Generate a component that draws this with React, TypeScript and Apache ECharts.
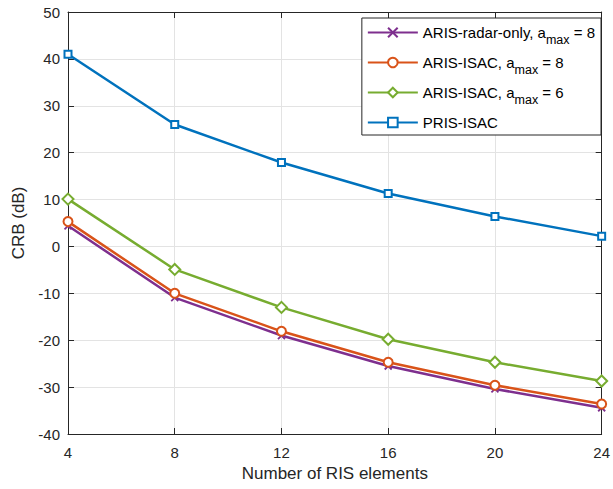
import React, { useEffect, useRef } from "react";
import * as echarts from "echarts";

const xValues = [4, 8, 12, 16, 20, 24];
const radarOnly8 = [4.4, -10.9, -19.0, -25.5, -30.4, -34.4];
const arisIsac8 = [5.3, -10.0, -18.1, -24.7, -29.6, -33.6];
const arisIsac6 = [10.1, -4.9, -13.0, -19.8, -24.7, -28.7];
const prisIsac = [41.0, 26.0, 17.9, 11.3, 6.4, 2.2];
const seriesNames = ["radar8", "isac8", "isac6", "pris"];
const legendParts: Record<string, [string, string, string]> = {
  radar8: ["ARIS-radar-only, a", "max", " = 8"],
  isac8: ["ARIS-ISAC, a", "max", " = 8"],
  isac6: ["ARIS-ISAC, a", "max", " = 6"],
  pris: ["PRIS-ISAC", "", ""],
};

const FONT = "'Liberation Sans', Arial, Helvetica, sans-serif";

export default function App() {
  const ref = useRef<HTMLDivElement>(null);
  useEffect(() => {
    if (!ref.current) return;
    const chart = echarts.init(ref.current, null, { renderer: "svg" });
    const pair = (ys: number[]) => xValues.map((x, i) => [x, ys[i]]);
    const mk = (name: string, color: string, ys: number[], symbol: string, size: number, z: number) => ({
      name,
      type: "line",
      data: pair(ys),
      symbol,
      symbolSize: size,
      z,
      lineStyle: { color, width: 2.5 },
      itemStyle: { color, borderColor: color, borderWidth: 1.8 },
    });
    const axisCommon = {
      type: "value",
      axisLine: { show: true, onZero: false, lineStyle: { color: "#262626", width: 1 } },
      axisTick: { show: true, inside: true, length: 6, lineStyle: { color: "#262626" } },
    };
    chart.setOption({
      animation: false,
      backgroundColor: "#ffffff",
      textStyle: { fontFamily: FONT },
      grid: { left: 68, right: 9, top: 12, bottom: 55, containLabel: false },
      xAxis: [
        {
          ...axisCommon,
          position: "bottom",
          min: 4,
          max: 24,
          interval: 4,
          name: "Number of RIS elements",
          nameLocation: "middle",
          nameGap: 31,
          nameTextStyle: { fontSize: 17, color: "#262626", fontFamily: FONT },
          axisLabel: { fontSize: 15, color: "#262626", margin: 11, fontFamily: FONT },
          splitLine: { show: true, lineStyle: { color: "#e3e3e3", width: 1 } },
        },
        {
          ...axisCommon,
          position: "top",
          min: 4,
          max: 24,
          interval: 4,
          axisLabel: { show: false },
          splitLine: { show: false },
        },
      ],
      yAxis: [
        {
          ...axisCommon,
          position: "left",
          min: -40,
          max: 50,
          interval: 10,
          name: "CRB (dB)",
          nameLocation: "middle",
          nameGap: 40,
          nameTextStyle: { fontSize: 17, color: "#262626", fontFamily: FONT },
          axisLabel: { fontSize: 15, color: "#262626", margin: 8, fontFamily: FONT },
          splitLine: { show: true, lineStyle: { color: "#e3e3e3", width: 1 } },
        },
        {
          ...axisCommon,
          position: "right",
          min: -40,
          max: 50,
          interval: 10,
          axisLabel: { show: false },
          splitLine: { show: false },
        },
      ],
      legend: {
        orient: "vertical",
        right: 12,
        top: 18,
        data: seriesNames,
        backgroundColor: "#ffffff",
        borderColor: "#262626",
        borderWidth: 1,
        borderRadius: 0,
        padding: [7, 6, 5, 5],
        itemWidth: 50,
        itemHeight: 12,
        itemGap: 9,
        textStyle: {
          fontFamily: FONT,
          fontSize: 15,
          color: "#000",
          rich: {
            a: { fontSize: 15, fontFamily: FONT, color: "#000", height: 18 },
            s: { fontSize: 12.5, fontFamily: FONT, color: "#000", padding: [14, 0, 0, 0], height: 18 },
          },
        },
        formatter: (name: string) => {
          const p = legendParts[name];
          if (!p[1]) return `{a|${p[0]}}`;
          return `{a|${p[0]}}{s|${p[1]}}{a|${p[2]}}`;
        },
      },
      series: [
        mk("radar8", "#7E2F8E", radarOnly8, "path://M0,0L10,10M10,0L0,10", 7, 4),
        mk("isac8", "#D95319", arisIsac8, "emptyCircle", 9, 5),
        mk("isac6", "#77AC30", arisIsac6, "emptyDiamond", 11, 3),
        mk("pris", "#0072BD", prisIsac, "emptyRect", 7, 2),
      ],
    });
    return () => chart.dispose();
  }, []);
  return <div ref={ref} style={{ width: 613, height: 489, position: "absolute", left: 0, top: 0 }} />;
}
